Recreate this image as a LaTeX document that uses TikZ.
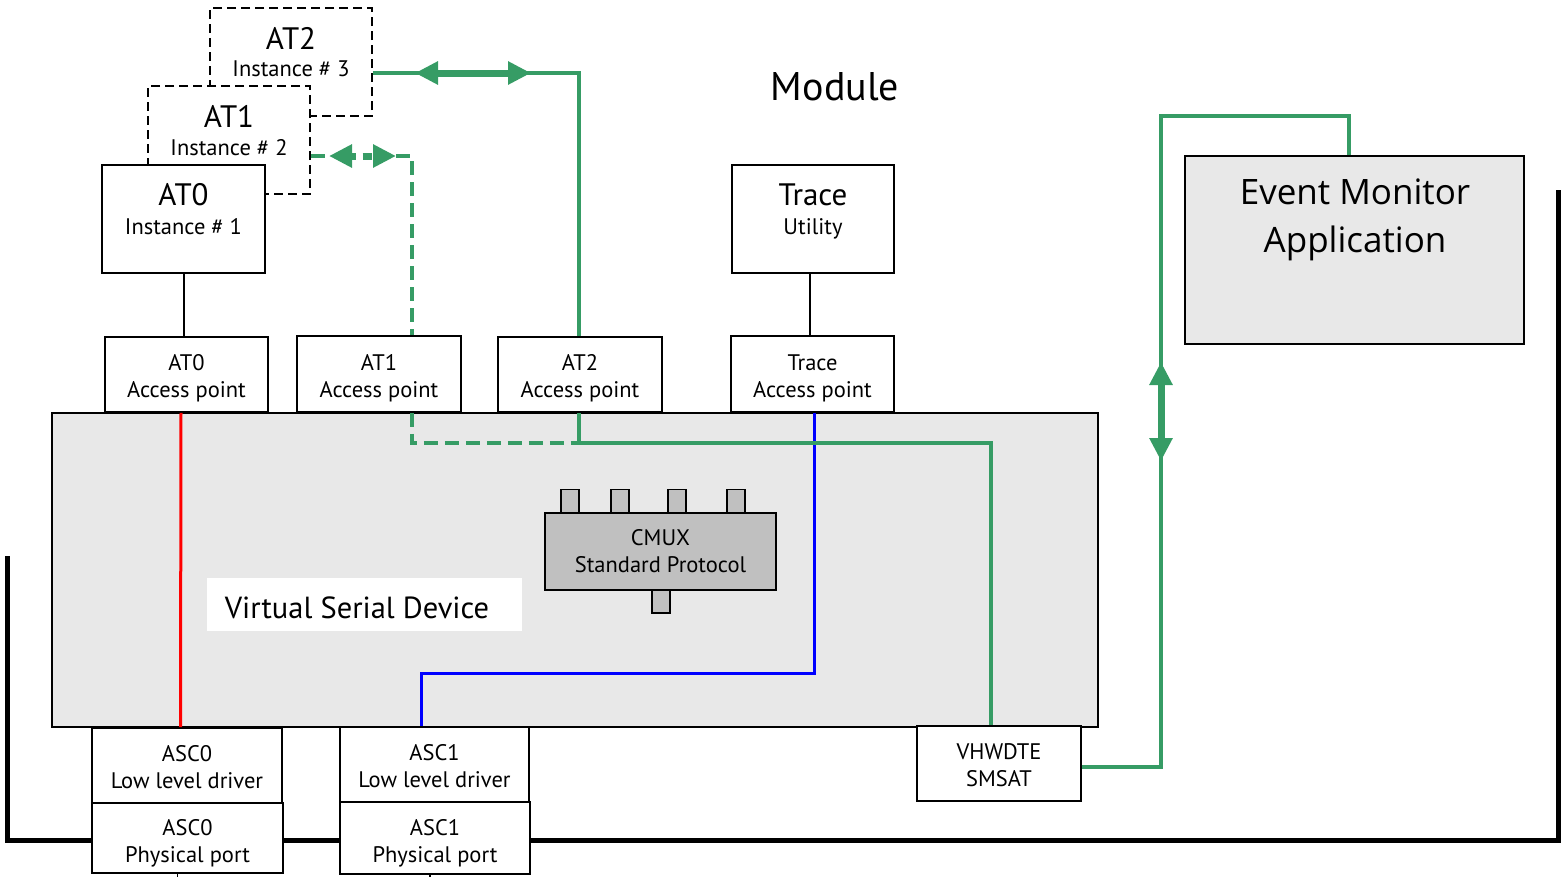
\documentclass[tikz,border=0pt]{standalone}
\usepackage{fontspec}
\setmainfont{PT Sans}
\newfontfamily\appfont{Open Sans}
\usetikzlibrary{arrows.meta,calc}

\definecolor{linkgreen}{RGB}{54,156,101}
\definecolor{panelgray}{RGB}{232,232,232}
\definecolor{muxgray}{RGB}{192,192,192}

% invisible strut that lowers a two-line label inside its box
\newcommand{\droplabel}[1]{\rule{0pt}{#1}}

\begin{document}
\begin{tikzpicture}[x=1pt,y=-1pt,
  box/.style={draw=black,line width=1.8pt,fill=white,inner sep=0pt,align=center},
  dbox/.style={box,dash pattern=on 9pt off 5pt},
  small/.style={font=\fontsize{22.5}{27}\selectfont},
  big/.style={font=\fontsize{31}{32}\selectfont},
  port/.style={draw=black,line width=1.6pt,fill=muxgray,minimum width=18pt,minimum height=23pt,inner sep=0pt},
  wire/.style={line width=1.6pt,black},
  gline/.style={line width=3.5pt,linkgreen},
  gdash/.style={gline,dash pattern=on 14pt off 7pt},
  gtip/.style={line width=7pt,linkgreen,
    {Triangle[length=23pt,width=22pt]}-{Triangle[length=23pt,width=22pt]}},
  bracket/.style={line width=5pt,black},
]
\useasboundingbox (0,0) rectangle (1561,876);

% outer module bracket
\draw[bracket] (7,556) -- (7,840) -- (1558,840) -- (1558,190);

% virtual serial device panel
\node[box,draw=black,fill=panelgray,minimum width=1046pt,minimum height=314pt] (vsd) at (575,570) {};
\node[fill=white,minimum width=315pt,minimum height=53pt,inner sep=0pt] (vsdlab) at (364.5,604.5) {};
\node[font=\fontsize{30.5}{34}\selectfont] (vsdtxt) at (357,608) {Virtual Serial Device};

% CMUX block and its channel ports
\node[port] (c1) at (570,501) {};
\node[port] (c2) at (620,501) {};
\node[port] (c3) at (677,501) {};
\node[port] (c4) at (736,501) {};
\node[port] (c0) at (661,601.5) {};
\node[box,fill=muxgray,small,minimum width=231pt,minimum height=77pt] (cmux) at (660.5,551.5) {CMUX\\Standard Protocol};

% AT instances (stacked)
\node[dbox,minimum width=162pt,minimum height=108pt] (at2) at (291,62) {};
\node[big] (at2a) at (291,38) {AT2};
\node[small] (at2b) at (291,69) {Instance \# 3};
\node[dbox,minimum width=162pt,minimum height=108pt] (at1) at (229,140) {};
\node[big] (at1a) at (229,116) {AT1};
\node[small] (at1b) at (229,148) {Instance \# 2};
\node[box,minimum width=163pt,minimum height=108pt] (at0) at (183.5,219) {};
\node[big] (at0a) at (183.5,195) {AT0};
\node[small] (at0b) at (183.5,227) {Instance \# 1};

% trace utility
\node[box,minimum width=162pt,minimum height=108pt] (trace) at (813,219) {};
\node[big] (tra) at (813,195) {Trace};
\node[small] (trb) at (813,228.5) {Utility};

% event monitor application
\node[box,fill=panelgray,minimum width=339pt,minimum height=188pt] (ev) at (1354.5,250) {};
\node[font=\appfont\fontsize{35}{48}\selectfont,align=center,anchor=north] (evt) at (1355,175) {Event Monitor\\Application};

% module title
\node[font=\fontsize{40}{44}\selectfont] (mod) at (835,87) {Module};

% access points
\node[box,small,minimum width=163pt,minimum height=75pt] (ap0) at (186.5,374.5) {\droplabel{24pt}AT0\\Access point};
\node[box,small,minimum width=164pt,minimum height=76pt] (ap1) at (379,374) {\droplabel{24pt}AT1\\Access point};
\node[box,small,minimum width=164pt,minimum height=75pt] (ap2) at (580,374.5) {\droplabel{24pt}AT2\\Access point};
\node[box,small,minimum width=163pt,minimum height=76pt] (apt) at (812.5,374) {\droplabel{24pt}Trace\\Access point};

% low level drivers and physical ports
\node[box,small,minimum width=190pt,minimum height=75pt] (asc0l) at (187,765.5) {\droplabel{19pt}ASC0\\Low level driver};
\node[box,small,minimum width=191pt,minimum height=70pt] (asc0p) at (187.5,838) {\droplabel{27pt}ASC0\\Physical port};
\node[box,small,minimum width=189pt,minimum height=75pt] (asc1l) at (434.5,764.5) {\droplabel{19pt}ASC1\\Low level driver};
\node[box,small,minimum width=190pt,minimum height=72pt] (asc1p) at (435,838) {\droplabel{27pt}ASC1\\Physical port};
\node[box,small,minimum width=164pt,minimum height=75pt] (vhw) at (999,763.5) {\droplabel{20pt}VHWDTE\\SMSAT};

% stubs leaving the physical ports
\draw[wire] ([xshift=-10pt]asc0p.south) -- ++(0,6);
\draw[wire] ([xshift=-5pt]asc1p.south) -- ++(0,6);

% instance to access point links
\draw[wire] ([xshift=0.5pt]at0.south) -- ([xshift=-2.5pt]ap0.north);
\draw[wire] ([xshift=-3pt]trace.south) -- ([xshift=-2.5pt]apt.north);

% ASC0 channel
\draw[line width=3pt,red] ([xshift=-5.5pt]ap0.south) -- ([xshift=-6.5pt]asc0l.north);

% trace channel to ASC1
\draw[line width=3pt,blue] ([xshift=1.5pt]apt.south) |- ($([xshift=-13.5pt]asc1l.north)+(0,-53)$) -- ([xshift=-13.5pt]asc1l.north);

% AT2 link
\coordinate (g1) at (579,443);
\coordinate (g2) at (991,443);
\draw[gline] ([yshift=-11pt]at2.east) -| ([xshift=-1pt]ap2.north);
\draw[gline] ([xshift=-1pt]ap2.south) |- (g2) -- (g2 |- vhw.north);
\coordinate (t2a) at (415,73);
\coordinate (t2b) at (531,73);
\draw[gtip] (t2a) -- (t2b);

% AT1 link (dashed)
\coordinate (t1a) at (329,156);
\coordinate (t1b) at (396,156);
\draw[gdash] ([yshift=-16pt]at1.east) -- (t1a);
\draw[gdash] (t1b) -| ([xshift=33pt]ap1.north);
\draw[gdash] ([xshift=33pt]ap1.south) |- (g1);
\draw[gtip,dash pattern=on 5pt off 7pt on 9pt off 20pt] (t1a) -- (t1b);

% VHWDTE to event monitor
\coordinate (g3) at (1161,116);
\draw[gline] ([yshift=-3.5pt]vhw.east) -| (g3) -| ([xshift=-5.5pt]ev.north);
\coordinate (t3a) at (1161,362);
\coordinate (t3b) at (1161,461);
\draw[gtip] (t3a) -- (t3b);
\end{tikzpicture}
\end{document}
